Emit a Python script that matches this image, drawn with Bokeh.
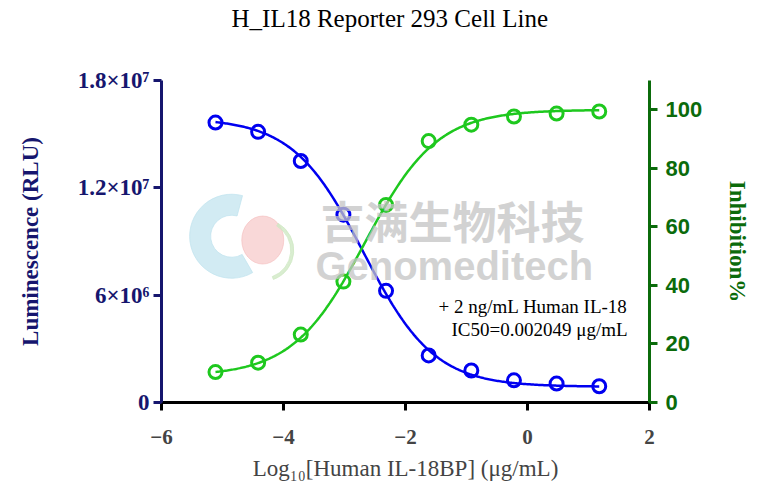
import numpy as np
from bokeh.plotting import figure
from bokeh.models import Range1d, LinearAxis, FixedTicker, Label, Title
from bokeh.embed import file_html
from bokeh.resources import INLINE

# ---------------- data ----------------
log_conc = [1.176, 0.477, -0.222, -0.921, -1.620, -2.319, -3.018, -3.717, -4.416, -5.115]
luminescence = [0.91e6, 1.06e6, 1.24e6, 1.79e6, 2.63e6, 6.24e6, 1.05e7, 1.35e7, 1.513e7, 1.565e7]
inhibition = [99.4, 98.7, 97.7, 94.9, 89.3, 67.5, 41.3, 23.2, 13.6, 10.4]

# 4PL fit parameters (estimated; IC50 = 0.002049 ug/mL)
lum_bottom, lum_top, lum_logic50, lum_hill = 0.88e6, 1.59e7, np.log10(0.002049), 0.75
inh_bottom, inh_top, inh_logec50, inh_hill = 9.0, 100.0, -2.668, 0.736

x_ticks = [-6, -4, -2, 0, 2]
left_ticks = [0, 6e6, 1.2e7, 1.8e7]
left_tick_labels = ["0", "6×10⁶", "1.2×10⁷", "1.8×10⁷"]
right_ticks = [0, 20, 40, 60, 80, 100]

title_text = "H_IL18 Reporter 293 Cell Line"
x_label = "Log₁₀[Human IL-18BP] (μg/mL)"
left_label = "Luminescence (RLU)"
right_label = "Inhibition%"
note_1 = "+ 2 ng/mL Human IL-18"
note_2 = "IC50=0.002049 μg/mL"

NAVY = "#16166e"
DKGREEN = "#0b6b0b"
BLUE = "#0000f0"
GREEN = "#1ec81e"
SERIF = "Liberation Serif"
SANS = "Liberation Sans"

p = figure(width=756, height=486, x_range=Range1d(-6, 2), y_range=Range1d(0, 1.8e7),
           output_backend="svg", toolbar_location=None,
           min_border_left=161, min_border_top=79, min_border_right=107, min_border_bottom=84)
p.title = None
p.extra_y_ranges = {"inh": Range1d(0, 110)}
p.outline_line_color = None
p.xgrid.visible = False
p.ygrid.visible = False
p.background_fill_color = "white"

# ---------------- axes ----------------
xa = p.below[0]
xa.ticker = FixedTicker(ticks=x_ticks)
xa.axis_line_width = 3
xa.axis_line_color = "black"
xa.major_tick_line_width = 3
xa.major_tick_out = 8
xa.major_tick_in = 0
xa.minor_tick_line_color = None
xa.major_label_text_font = SERIF
xa.major_label_text_font_style = "bold"
xa.major_label_text_font_size = "21px"
xa.major_label_standoff = 19
xa.axis_label = x_label
xa.axis_label_text_font = SERIF
xa.axis_label_text_font_style = "normal"
xa.axis_label_text_font_size = "23px"
xa.axis_label_standoff = 9

ya = p.left[0]
ya.ticker = FixedTicker(ticks=left_ticks)
ya.major_label_overrides = {t: s for t, s in zip(left_ticks, left_tick_labels)}
ya.axis_line_width = 3
ya.axis_line_color = NAVY
ya.major_tick_line_width = 3
ya.major_tick_line_color = NAVY
ya.major_tick_out = 8
ya.major_tick_in = 0
ya.minor_tick_line_color = None
ya.major_label_text_font = SERIF
ya.major_label_text_font_style = "bold"
ya.major_label_text_font_size = "23px"
ya.major_label_text_color = NAVY
ya.major_label_standoff = 4
ya.axis_label = left_label
ya.axis_label_text_font = SERIF
ya.axis_label_text_font_style = "bold"
ya.axis_label_text_font_size = "23px"
ya.axis_label_text_color = NAVY
ya.axis_label_standoff = 32

ra = LinearAxis(y_range_name="inh")
ra.ticker = FixedTicker(ticks=right_ticks)
ra.axis_line_width = 3
ra.axis_line_color = DKGREEN
ra.major_tick_line_width = 3
ra.major_tick_line_color = DKGREEN
ra.major_tick_out = 8
ra.major_tick_in = 0
ra.minor_tick_line_color = None
ra.major_label_text_font = SANS
ra.major_label_text_font_style = "bold"
ra.major_label_text_font_size = "22px"
ra.major_label_text_color = DKGREEN
ra.major_label_standoff = 8
ra.axis_label = right_label
ra.axis_label_text_font = SERIF
ra.axis_label_text_font_style = "bold"
ra.axis_label_text_font_size = "23px"
ra.axis_label_text_color = DKGREEN
ra.axis_label_standoff = 20
p.add_layout(ra, "right")

# invisible spacer axis above the frame, then the title outside it
spacer = LinearAxis(ticker=FixedTicker(ticks=[]), axis_line_color=None,
                    major_tick_line_color=None, minor_tick_line_color=None,
                    major_tick_out=0, major_tick_in=0, major_label_text_font_size="0px",
                    major_label_standoff=0, axis_label=" ", axis_label_text_font_size="14px",
                    axis_label_standoff=28)
p.add_layout(spacer, "above")
p.add_layout(Title(text=title_text, align="left", offset=70, standoff=4,
                   text_font=SERIF, text_font_style="normal", text_font_size="25px",
                   text_color="black"), "above")

# ---------------- faint logo (watermark) ----------------
p.annular_wedge(x=-4.85, y=56.8, inner_radius=21, outer_radius=42, inner_radius_units="screen",
                outer_radius_units="screen", start_angle=np.radians(75), end_angle=np.radians(300),
                color="#bfe3ee", alpha=0.7, y_range_name="inh")
p.ellipse(x=-4.34, y=55.5, width=42, height=48, width_units="screen", height_units="screen",
          color="#f4b8b8", alpha=0.55, y_range_name="inh")
p.annular_wedge(x=-4.34, y=52, inner_radius=28, outer_radius=31, inner_radius_units="screen",
                outer_radius_units="screen", start_angle=np.radians(-70), end_angle=np.radians(60),
                color="#cfe8c4", alpha=0.8, y_range_name="inh")

# ---------------- fitted curves ----------------
xs = np.linspace(min(log_conc), max(log_conc), 300)
lum_curve = lum_bottom + (lum_top - lum_bottom) / (1 + 10 ** ((xs - lum_logic50) * lum_hill))
inh_curve = inh_bottom + (inh_top - inh_bottom) / (1 + 10 ** ((inh_logec50 - xs) * inh_hill))

p.line(xs, lum_curve, line_color=BLUE, line_width=2.5)
p.line(xs, inh_curve, line_color=GREEN, line_width=2.5, y_range_name="inh")
p.scatter(log_conc, luminescence, marker="circle", size=13, fill_color="white", fill_alpha=0,
          line_color=BLUE, line_width=3)
p.scatter(log_conc, inhibition, marker="circle", size=13, fill_color="white", fill_alpha=0,
          line_color=GREEN, line_width=3, y_range_name="inh")

# ---------------- texts ----------------
p.add_layout(Label(x=1.64, y=32.7, y_range_name="inh", text=note_1, text_align="right",
                   text_baseline="middle", text_font=SERIF, text_font_size="19px", text_color="black"))
p.add_layout(Label(x=1.64, y=24.9, y_range_name="inh", text=note_2, text_align="right",
                   text_baseline="middle", text_font=SERIF, text_font_size="19px", text_color="black"))

p.add_layout(Label(x=-1.23, y=62.3, y_range_name="inh", text="吉满生物科技", text_align="center",
                   text_baseline="middle", text_font="Noto Sans CJK SC", text_font_style="bold",
                   text_font_size="44px", text_color="#c4c4c4", text_alpha=0.75))
p.add_layout(Label(x=-1.2, y=46.5, y_range_name="inh", text="Genomeditech", text_align="center",
                   text_baseline="middle", text_font=SANS, text_font_style="bold",
                   text_font_size="40px", text_color="#c4c4c4", text_alpha=0.75))

open("out.html", "w").write(file_html(p, INLINE))
